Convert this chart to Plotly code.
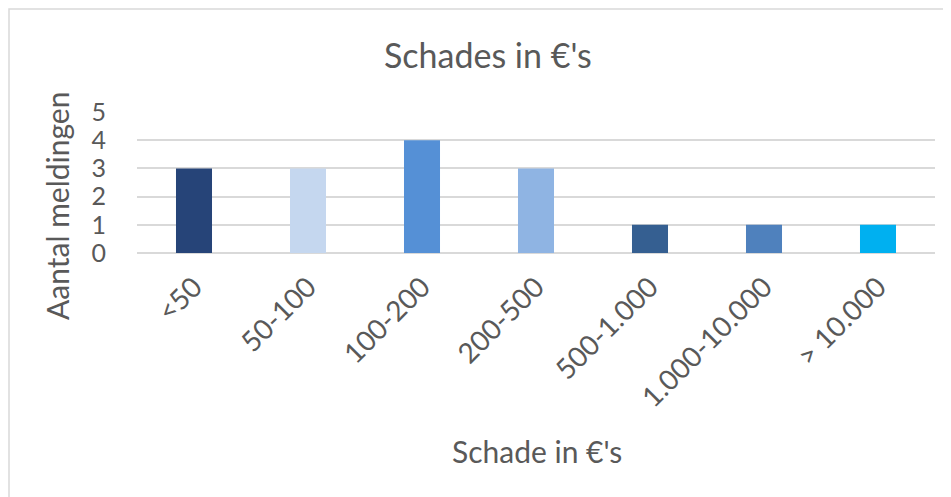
import plotly.graph_objects as go

# Schade categories and number of reports
categories = ["<50", "50-100", "100-200", "200-500", "500-1.000", "1.000-10.000", "> 10.000"]
meldingen = [3, 3, 4, 3, 1, 1, 1]
bar_colors = ["#264478", "#C5D7EF", "#5590D6", "#8FB4E3", "#355F91", "#4F81BD", "#00B0F0"]
y_ticks = [0, 1, 2, 3, 4, 5]

# the page puts the figure 8px in from the top-left corner,
# so positions below are screenshot pixels shifted by OFF
OFF = 8
W, H = 951 - OFF, 497 - OFF
L, R, T, B = 137 - OFF, 16, 112 - OFF, 497 - 253
pw, ph = W - L - R, H - T - B

FONT = "Lato"
GREY = "#595959"

fig = go.Figure()
fig.add_trace(go.Bar(
    x=categories, y=meldingen,
    marker_color=bar_colors, marker_line_width=0,
    hoverinfo="x+y",
))


def px_x(p):
    return (p - OFF - L) / pw


def px_y(p):
    return (H - B - (p - OFF)) / ph


def label(text, x, y, size, angle=0):
    return dict(text=text, xref="paper", yref="paper", x=px_x(x), y=px_y(y),
                xanchor="center", yanchor="middle", showarrow=False, textangle=angle,
                font=dict(size=size, color=GREY, family=FONT))


fig.update_layout(
    width=W, height=H,
    margin=dict(l=L, r=R, t=T, b=B, autoexpand=False),
    paper_bgcolor="white", plot_bgcolor="white",
    bargap=0.684, showlegend=False,
    font=dict(family=FONT, color=GREY),
    xaxis=dict(
        tickangle=-45, tickfont=dict(size=28, color=GREY, family=FONT),
        showgrid=False, showline=False, zeroline=False, ticks="",
        ticklabelstandoff=11, automargin=False,
    ),
    yaxis=dict(
        range=[0, 5], tickvals=y_ticks, tickfont=dict(size=25, color=GREY, family=FONT),
        showgrid=True, gridcolor="#D9D9D9", gridwidth=1.5,
        zeroline=True, zerolinecolor="#D9D9D9", zerolinewidth=1.5,
        showline=False, ticks="", ticklabelstandoff=30, automargin=False,
    ),
    shapes=[dict(
        type="rect", xref="paper", yref="paper",
        x0=px_x(9), x1=px_x(951 + 20), y0=px_y(497 + 20), y1=px_y(9),
        line=dict(color="#D9D9D9", width=1.5), fillcolor="rgba(0,0,0,0)", layer="below",
    )],
    annotations=[
        label("Schades in €'s", 488, 54, 34),
        label("Schade in €'s", 537, 451, 30),
        label("Aantal meldingen", 57, 206, 30, angle=-90),
    ],
)

fig.write_html("out.html")
